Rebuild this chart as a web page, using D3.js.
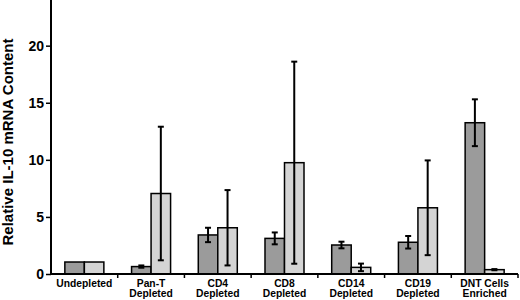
<!DOCTYPE html>
<html>
<head>
<meta charset="utf-8">
<script src="https://cdn.jsdelivr.net/npm/d3@7"></script>
<style>
  body { margin: 0; background: #fff; }
  svg { display: block; }
</style>
</head>
<body>
<script>
// categories, one array of text lines per group
var categories = [
  ["Undepleted"],
  ["Pan-T", "Depleted"],
  ["CD4", "Depleted"],
  ["CD8", "Depleted"],
  ["CD14", "Depleted"],
  ["CD19", "Depleted"],
  ["DNT Cells", "Enriched"]
];
var series = ["dark", "light"];
var darkValues  = [1.05, 0.65, 3.42, 3.12, 2.54, 2.78, 13.25];
var darkErr     = [0,    0.10, 0.63, 0.52, 0.29, 0.55, 2.05];
var lightValues = [1.05, 7.05, 4.05, 9.75, 0.58, 5.80, 0.38];
var lightErr    = [0,    5.85, 3.30, 8.85, 0.33, 4.15, 0.05];
var yTicks = [0, 5, 10, 15, 20];

var width = 520, height = 300;
var margin = {top: 0, right: 2, bottom: 26, left: 51};

var svg = d3.select("body").append("svg")
  .attr("width", width)
  .attr("height", height);

var font = "'Liberation Sans', Arial, Helvetica, sans-serif";

var x = d3.scaleBand()
  .domain(d3.range(categories.length))
  .range([margin.left, width - margin.right])
  .padding(0);

var xs = d3.scaleBand()
  .domain(series)
  .range([0, x.bandwidth()])
  .paddingInner(0)
  .paddingOuter(0.71);

var y = d3.scaleLinear()
  .domain([0, 24])
  .range([height - margin.bottom, 0]);

var colors = {dark: "#9b9b9b", light: "#d4d4d4"};

var rows = [];
categories.forEach(function(c, i) {
  rows.push({cat: i, s: "dark", v: darkValues[i], e: darkErr[i]});
  rows.push({cat: i, s: "light", v: lightValues[i], e: lightErr[i]});
});

// bars
svg.append("g").selectAll("rect")
  .data(rows)
  .enter().append("rect")
    .attr("x", function(d) { return x(d.cat) + xs(d.s); })
    .attr("y", function(d) { return y(d.v); })
    .attr("width", xs.bandwidth())
    .attr("height", function(d) { return y(0) - y(d.v); })
    .attr("fill", function(d) { return colors[d.s]; })
    .attr("stroke", "#000")
    .attr("stroke-width", 1.5);

// error bars
var eb = svg.append("g").selectAll("g")
  .data(rows.filter(function(d) { return d.e > 0; }))
  .enter().append("g")
    .attr("stroke", "#000")
    .attr("stroke-width", 2);

function cx(d) { return x(d.cat) + xs(d.s) + xs.bandwidth() / 2; }

eb.append("line")
  .attr("x1", cx).attr("x2", cx)
  .attr("y1", function(d) { return y(d.v + d.e); })
  .attr("y2", function(d) { return y(d.v - d.e); });
eb.append("line")
  .attr("x1", function(d) { return cx(d) - 3; })
  .attr("x2", function(d) { return cx(d) + 3; })
  .attr("y1", function(d) { return y(d.v + d.e); })
  .attr("y2", function(d) { return y(d.v + d.e); });
eb.append("line")
  .attr("x1", function(d) { return cx(d) - 3; })
  .attr("x2", function(d) { return cx(d) + 3; })
  .attr("y1", function(d) { return y(d.v - d.e); })
  .attr("y2", function(d) { return y(d.v - d.e); });

// y axis
var yAxis = svg.append("g")
  .attr("transform", "translate(" + margin.left + ",0)")
  .call(d3.axisLeft(y).tickValues(yTicks).tickSize(5).tickPadding(2));
yAxis.select(".domain")
  .attr("d", "M0," + y(24) + "V" + y(0))
  .attr("stroke-width", 2);
yAxis.selectAll(".tick line").attr("stroke-width", 1.5);
yAxis.selectAll("text")
  .attr("font-family", font)
  .attr("font-weight", "bold")
  .attr("font-size", "14px")
  .attr("fill", "#000");

// x axis with ticks at category boundaries
var xAxis = svg.append("g")
  .attr("transform", "translate(0," + y(0) + ")");
xAxis.append("line")
  .attr("x1", margin.left).attr("x2", width - margin.right)
  .attr("stroke", "#000").attr("stroke-width", 2);
xAxis.selectAll(".bt")
  .data(d3.range(1, categories.length + 1))
  .enter().append("line")
    .attr("class", "bt")
    .attr("x1", function(i) { return x(i - 1) + x.bandwidth(); })
    .attr("x2", function(i) { return x(i - 1) + x.bandwidth(); })
    .attr("y1", 0).attr("y2", 4)
    .attr("stroke", "#000").attr("stroke-width", 1.5);

var labels = xAxis.selectAll(".lab")
  .data(categories)
  .enter().append("text")
    .attr("class", "lab")
    .attr("text-anchor", "middle")
    .attr("font-family", font)
    .attr("font-weight", "bold")
    .attr("font-size", "10.3px");
labels.selectAll("tspan")
  .data(function(d, i) { return d.map(function(t) { return {t: t, i: i}; }); })
  .enter().append("tspan")
    .attr("x", function(d) { return x(d.i) + x.bandwidth() / 2; })
    .attr("y", function(d, j) { return 13 + j * 10; })
    .text(function(d) { return d.t; });

// y title
svg.append("text")
  .attr("transform", "translate(13," + 142 + ") rotate(-90)")
  .attr("text-anchor", "middle")
  .attr("font-family", font)
  .attr("font-weight", "bold")
  .attr("font-size", "15px")
  .text("Relative IL-10 mRNA Content");
</script>
</body>
</html>
